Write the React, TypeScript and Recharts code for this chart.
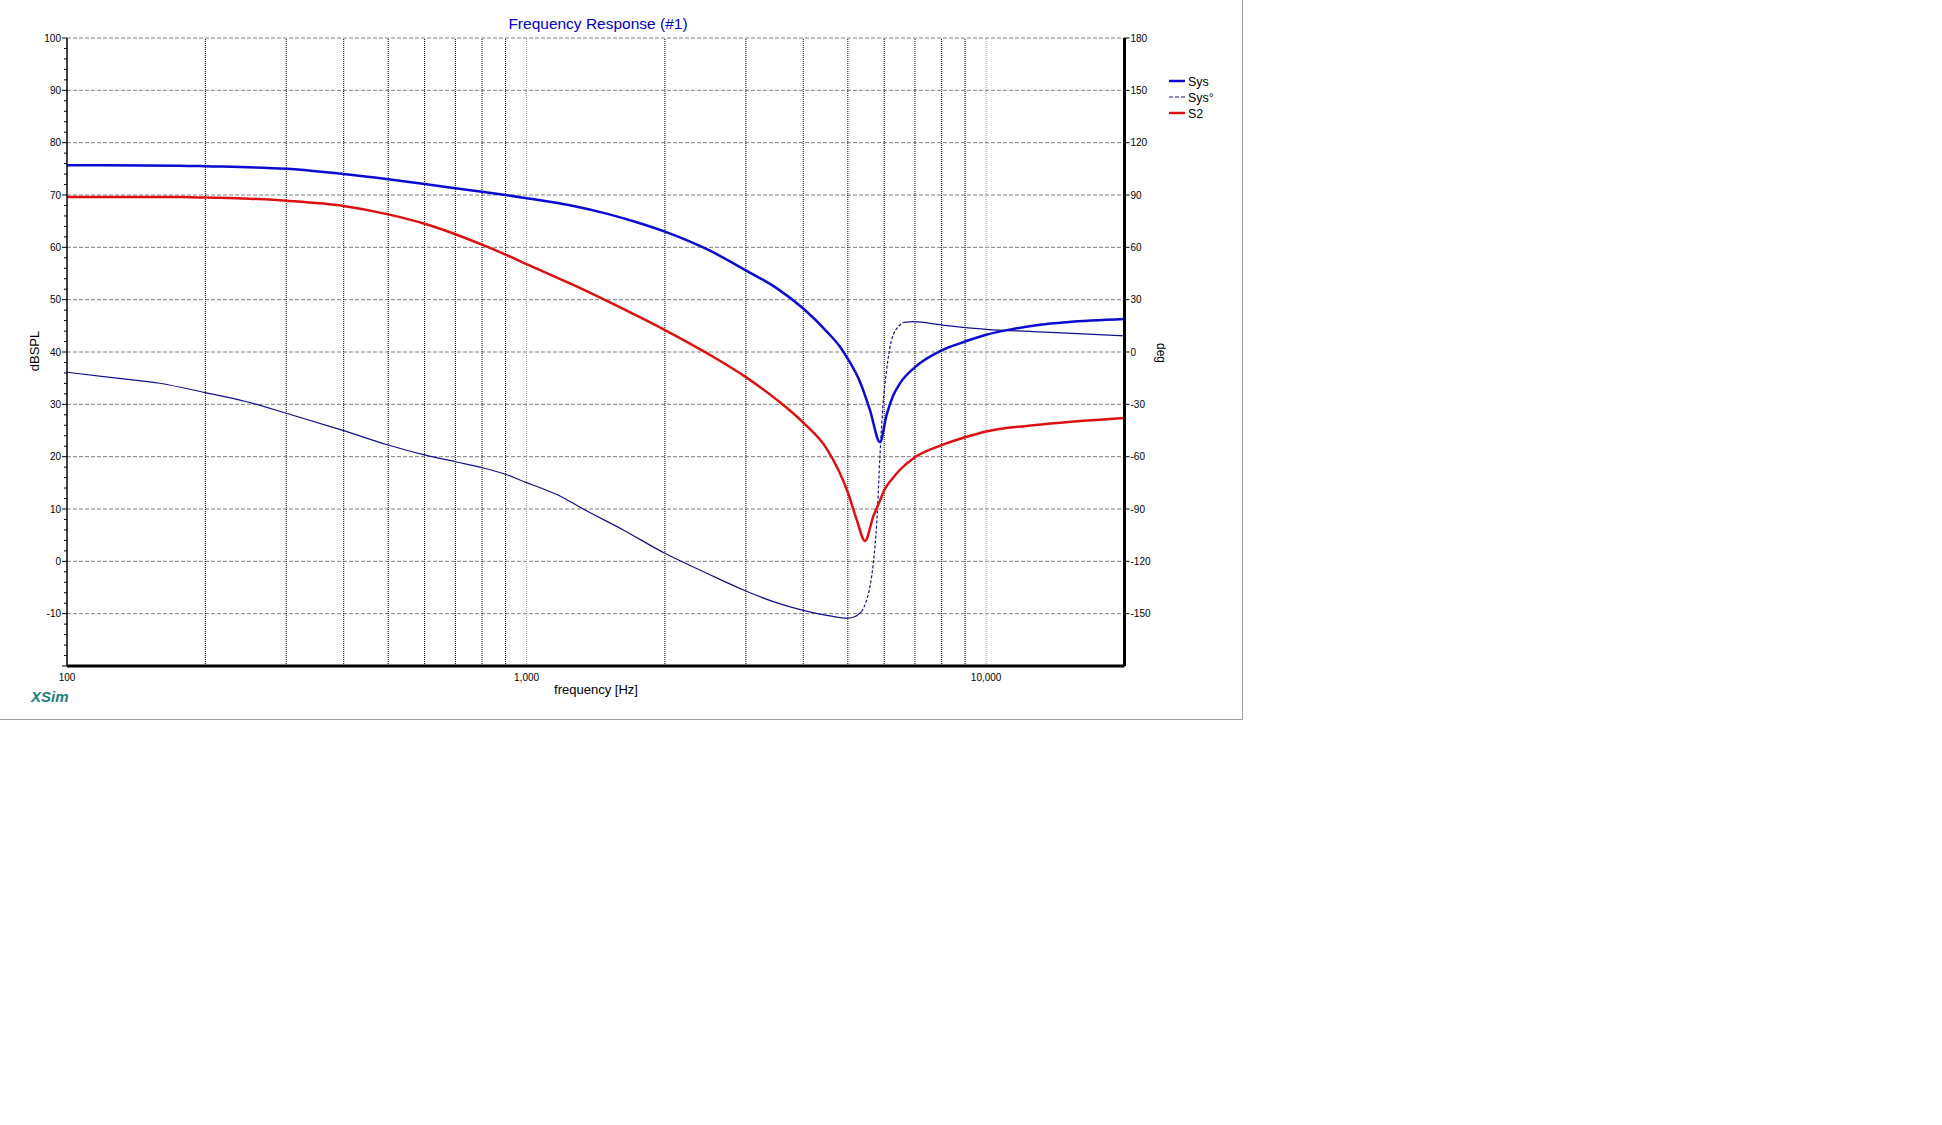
import React from 'react';
import { LineChart, Line, XAxis, YAxis, ReferenceLine } from 'recharts';

const FONT = "'Liberation Sans', Arial, sans-serif";

// Sys magnitude (dBSPL)
const sysFreq = [100, 176, 200, 300, 400, 500, 600, 700, 800, 900, 1000, 1250, 1500, 1750, 2000, 2500, 3000, 3500, 4000, 4500, 4808, 5000, 5314, 5587, 5875, 6073, 6270, 6493, 7000, 8000, 9000, 10000, 11440, 13090, 14970, 20000];
const sysSpl = [75.7, 75.6, 75.5, 75.0, 74.0, 73.0, 72.1, 71.3, 70.6, 70.0, 69.4, 68.0, 66.4, 64.7, 63.0, 59.4, 55.6, 52.2, 48.3, 43.9, 41.0, 38.7, 34.3, 28.9, 22.8, 28.0, 31.6, 34.0, 37.1, 40.3, 42.0, 43.3, 44.4, 45.2, 45.7, 46.3];

// S2 magnitude (dBSPL)
const s2Freq = [100, 176, 200, 250, 300, 400, 500, 600, 700, 800, 900, 1000, 1250, 1500, 1750, 2000, 2500, 3000, 3500, 4000, 4500, 5000, 5226, 5450, 5681, 5875, 6000, 6250, 6493, 7000, 8000, 9000, 10000, 12660, 20000];
const s2Spl = [69.6, 69.6, 69.5, 69.3, 68.9, 67.9, 66.3, 64.5, 62.5, 60.5, 58.6, 56.8, 53.0, 49.7, 46.8, 44.2, 39.5, 35.2, 30.9, 26.5, 21.5, 13.2, 8.0, 3.9, 8.6, 11.6, 13.6, 15.8, 17.5, 19.9, 22.2, 23.7, 24.8, 26.0, 27.4];

// Sys phase (deg)
const phaseFreq = [100, 124, 159, 200, 246, 300, 400, 500, 600, 700, 800, 900, 1000, 1070, 1182, 1307, 1623, 2000, 2465, 3000, 3442, 4000, 4573, 5000, 5200, 5359, 5480, 5587, 5681, 5780, 5875, 5954, 6073, 6226, 6493, 6615, 6941, 8000, 10000, 12660, 20000];
const phaseDeg = [-11.6, -14.5, -17.9, -23.3, -28.5, -35.1, -45.1, -53.3, -59.0, -62.9, -66.3, -70.1, -74.9, -77.8, -82.5, -89.0, -102.0, -115.4, -126.8, -137.0, -143.1, -148.1, -151.3, -152.6, -151.5, -148.8, -143.1, -134.5, -121.1, -98.0, -59.0, -33.2, -10.3, 6.9, 15.5, 17.0, 17.4, 15.5, 13.0, 11.7, 9.2];
// the fast-moving stretch is drawn dashed, as in XSim
const phaseDashFrom = 5359;
const phaseDashTo = 6615;

const freqTicks = [100, 1000, 10000];
const minorFreqs = [200, 300, 400, 500, 600, 700, 800, 900, 2000, 3000, 4000, 5000, 6000, 7000, 8000, 9000];
const decadeFreqs = [1000, 10000];
const splGrid = [100, 90, 80, 70, 60, 50, 40, 30, 20, 10, 0, -10];
const splTicks = Array.from({ length: 61 }, (_, i) => -20 + i * 2);
const phaseTicks = [180, 150, 120, 90, 60, 30, 0, -30, -60, -90, -120, -150, -180];

const SYS_BLUE = '#0a0ad0';
const S2_RED = '#dc1010';
const PHASE_BLUE = '#10108c';

const legendItems = [
  { name: 'Sys', color: SYS_BLUE, dash: undefined, width: 2.5 },
  { name: 'Sys°', color: PHASE_BLUE, dash: '4 2', width: 1.2 },
  { name: 'S2', color: S2_RED, dash: undefined, width: 2.5 },
];

const sysData = sysFreq.map((f, i) => ({ f, v: sysSpl[i] }));
const s2Data = s2Freq.map((f, i) => ({ f, v: s2Spl[i] }));
const phaseSolid = phaseFreq.map((f, i) => ({
  f,
  v: f > phaseDashFrom && f < phaseDashTo ? null : phaseDeg[i],
}));
const phaseDashed = phaseFreq
  .map((f, i) => ({ f, v: phaseDeg[i] }))
  .filter(p => p.f >= phaseDashFrom && p.f <= phaseDashTo);

const LeftTick = (props: any) => {
  const { x, y, payload } = props;
  const v = payload.value;
  const major = v % 10 === 0;
  return (
    <g>
      <line x1={x - (major ? 5 : 3)} x2={x} y1={y} y2={y} stroke="#000" strokeWidth={1} />
      {major && v > -20 && (
        <text x={x - 6} y={y} dy="0.35em" textAnchor="end" fontSize={10} fontFamily={FONT} fill="#000">
          {v}
        </text>
      )}
    </g>
  );
};

const RightTick = (props: any) => {
  const { x, y, payload } = props;
  const v = payload.value;
  if (v === -180) return <g />;
  return (
    <g>
      <line x1={x} x2={x + 5} y1={y} y2={y} stroke="#000" strokeWidth={1} />
      <text x={x + 6} y={y} dy="0.35em" textAnchor="start" fontSize={10} fontFamily={FONT} fill="#000">
        {v}
      </text>
    </g>
  );
};

export default function App() {
  return (
    <div
      style={{
        position: 'absolute',
        left: 0,
        top: 0,
        width: 1242,
        height: 719,
        background: '#fff',
        borderRight: '1px solid #a0a0a0',
        borderBottom: '1px solid #a0a0a0',
      }}
    >
      <LineChart width={1242} height={719} margin={{ top: 38, right: 57.5, bottom: 23, left: 0 }}>
        <XAxis
          dataKey="f"
          type="number"
          scale="log"
          domain={[100, 20000]}
          allowDataOverflow
          ticks={freqTicks}
          tickFormatter={(v: number) => v.toLocaleString('en-US')}
          tick={{ fontSize: 10, fill: '#000', fontFamily: FONT }}
          tickLine={false}
          axisLine={{ stroke: '#000', strokeWidth: 3 }}
          height={30}
          interval={0}
        />
        <YAxis
          yAxisId="left"
          domain={[-20, 100]}
          allowDataOverflow
          ticks={splTicks}
          interval={0}
          tickSize={0}
          tickMargin={0}
          tickLine={false}
          tick={(p: any) => <LeftTick {...p} />}
          axisLine={{ stroke: '#000', strokeWidth: 1.5 }}
          width={67}
        />
        <YAxis
          yAxisId="right"
          orientation="right"
          domain={[-180, 180]}
          allowDataOverflow
          ticks={phaseTicks}
          interval={0}
          tickSize={0}
          tickMargin={0}
          tickLine={false}
          tick={(p: any) => <RightTick {...p} />}
          axisLine={{ stroke: '#000', strokeWidth: 3 }}
          width={60}
        />
        {splGrid.map(v => (
          <ReferenceLine key={'h' + v} yAxisId="left" y={v} stroke="#808080" strokeDasharray="4 2" strokeWidth={1} />
        ))}
        {minorFreqs.map(f => (
          <ReferenceLine key={'v' + f} yAxisId="left" x={f} stroke="#000" strokeDasharray="1 1" strokeWidth={1} />
        ))}
        {decadeFreqs.map(f => (
          <ReferenceLine key={'d' + f} yAxisId="left" x={f} stroke="#9a9a9a" strokeDasharray="1 1" strokeWidth={1} />
        ))}
        <Line
          yAxisId="right"
          data={phaseSolid}
          dataKey="v"
          type="monotone"
          stroke={PHASE_BLUE}
          strokeWidth={1.2}
          dot={false}
          connectNulls={false}
          isAnimationActive={false}
        />
        <Line
          yAxisId="right"
          data={phaseDashed}
          dataKey="v"
          type="monotone"
          stroke={PHASE_BLUE}
          strokeWidth={1.2}
          strokeDasharray="3 2"
          dot={false}
          isAnimationActive={false}
        />
        <Line
          yAxisId="left"
          data={s2Data}
          dataKey="v"
          type="monotone"
          stroke={S2_RED}
          strokeWidth={2.5}
          dot={false}
          isAnimationActive={false}
        />
        <Line
          yAxisId="left"
          data={sysData}
          dataKey="v"
          type="monotone"
          stroke={SYS_BLUE}
          strokeWidth={2.5}
          dot={false}
          isAnimationActive={false}
        />
      </LineChart>
      <svg
        width={1242}
        height={719}
        style={{ position: 'absolute', left: 0, top: 0, pointerEvents: 'none' }}
        fontFamily={FONT}
      >
        <text x={598} y={29} textAnchor="middle" fontSize={15.5} fill="#0000c8">
          Frequency Response (#1)
        </text>
        <text transform="translate(39,351) rotate(-90)" textAnchor="middle" fontSize={13} fill="#000">
          dBSPL
        </text>
        <text transform="translate(1157,353) rotate(90)" textAnchor="middle" fontSize={12} fill="#000">
          deg
        </text>
        <text x={596} y={694} textAnchor="middle" fontSize={13} fill="#000">
          frequency [Hz]
        </text>
        <text x={31} y={702} fontSize={15} fontWeight="bold" fontStyle="italic" fill="#1e7d7d">
          XSim
        </text>
        {legendItems.map((it, i) => (
          <g key={it.name}>
            <line
              x1={1169}
              x2={1185}
              y1={81 + i * 16}
              y2={81 + i * 16}
              stroke={it.color}
              strokeWidth={it.width}
              strokeDasharray={it.dash}
            />
            <text x={1188} y={81 + i * 16 + 4.5} fontSize={12.5} fill="#000">
              {it.name}
            </text>
          </g>
        ))}
      </svg>
    </div>
  );
}
